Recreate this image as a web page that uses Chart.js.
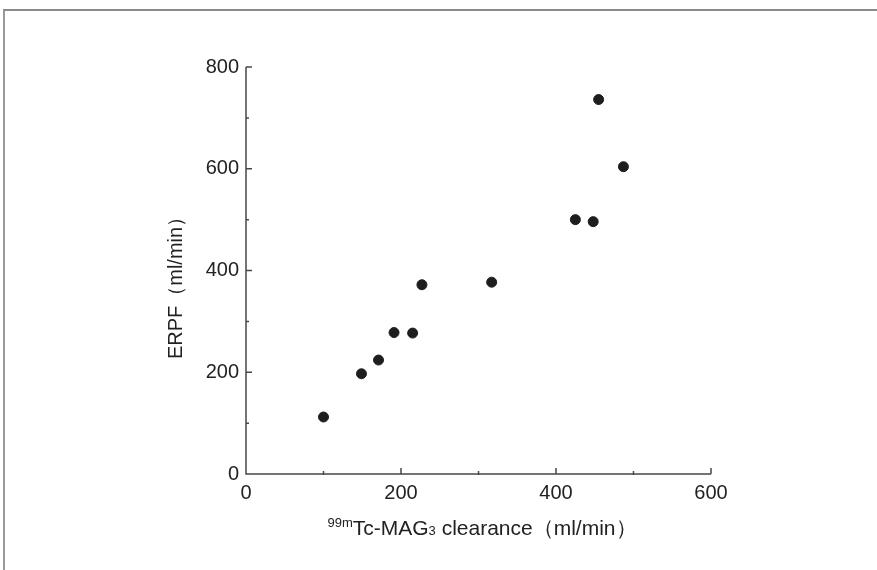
<!DOCTYPE html>
<html>
<head>
<meta charset="utf-8">
<script src="https://cdn.jsdelivr.net/npm/chart.js@4.4.1/dist/chart.umd.min.js"></script>
<style>
  html, body { margin: 0; padding: 0; background: #fff; }
  #wrap { position: relative; width: 877px; height: 570px; }
  #frame { position: absolute; left: 3px; top: 9px; right: -4px; bottom: -4px;
           border-left: 2px solid #9a9a9a; border-top: 2px solid #8a8a8a; pointer-events: none; }
</style>
</head>
<body>
<div id="wrap">
  <canvas id="chart" width="877" height="570"></canvas>
  <div id="frame"></div>
</div>
<script>
// data
const mag3Clearance = [100, 149, 171, 191, 215, 227, 317, 425, 448, 455, 487];
const erpf          = [112, 197, 224, 278, 277, 372, 377, 500, 496, 736, 604];

const xMajorTicks = [0, 200, 400, 600];
const xMinorTicks = [100, 300, 500];
const yMajorTicks = [0, 200, 400, 600, 800];
const yMinorTicks = [100, 300, 500, 700];

const FONT = '"Liberation Sans", Arial, Helvetica, sans-serif';
const AXIS_COLOR = '#474747';
const TEXT_COLOR = '#222';

const points = mag3Clearance.map((x, i) => ({ x: x, y: erpf[i] }));

// axis lines + ticks pointing inward (drawn through the scales)
const insideTicks = {
  id: 'insideTicks',
  afterDraw(chart) {
    const ctx = chart.ctx;
    const xs = chart.scales.x, ys = chart.scales.y;
    const x0 = xs.getPixelForValue(0), y0 = ys.getPixelForValue(0);
    ctx.save();
    ctx.strokeStyle = AXIS_COLOR;
    ctx.lineWidth = 1.5;
    ctx.beginPath();
    ctx.moveTo(x0, ys.getPixelForValue(800));
    ctx.lineTo(x0, y0);
    ctx.lineTo(xs.getPixelForValue(600), y0);
    xMajorTicks.forEach(v => { const p = xs.getPixelForValue(v); ctx.moveTo(p, y0); ctx.lineTo(p, y0 - 6); });
    xMinorTicks.forEach(v => { const p = xs.getPixelForValue(v); ctx.moveTo(p, y0 + 1); ctx.lineTo(p, y0 - 3); });
    yMajorTicks.forEach(v => { const p = ys.getPixelForValue(v); ctx.moveTo(x0, p); ctx.lineTo(x0 + 6, p); });
    yMinorTicks.forEach(v => { const p = ys.getPixelForValue(v); ctx.moveTo(x0, p); ctx.lineTo(x0 + 3, p); });
    ctx.stroke();
    ctx.restore();
  }
};

// axis titles (x title needs super/subscripts)
const axisTitles = {
  id: 'axisTitles',
  afterDraw(chart) {
    const ctx = chart.ctx;
    ctx.save();
    ctx.fillStyle = TEXT_COLOR;
    ctx.textBaseline = 'alphabetic';

    // x title: 99mTc-MAG3 clearance（ml/min）
    const parts = [
      { t: '99m', size: 13, dy: -8 },
      { t: 'Tc-MAG', size: 21, dy: 0 },
      { t: '3', size: 13, dy: 0 },
      { t: ' clearance（ml/min）', size: 21, dy: 0 }
    ];
    let total = 0;
    parts.forEach(p => { ctx.font = p.size + 'px ' + FONT; p.w = ctx.measureText(p.t).width; total += p.w; });
    let x = 482 - total / 2;
    const base = 535;
    parts.forEach(p => {
      ctx.font = p.size + 'px ' + FONT;
      ctx.textAlign = 'left';
      ctx.fillText(p.t, x, base + p.dy);
      x += p.w;
    });

    // y title
    ctx.translate(182, 283);
    ctx.rotate(-Math.PI / 2);
    ctx.font = '20px ' + FONT;
    ctx.textAlign = 'center';
    ctx.fillText('ERPF（ml/min）', 0, 0);
    ctx.restore();
  }
};

new Chart(document.getElementById('chart'), {
  type: 'scatter',
  data: {
    datasets: [{
      data: points,
      backgroundColor: '#1e1e1e',
      borderColor: '#1e1e1e',
      pointRadius: 5,
      pointHoverRadius: 5
    }]
  },
  options: {
    responsive: false,
    animation: false,
    layout: { padding: { top: 67, right: 166, left: 0, bottom: 0 } },
    plugins: { legend: { display: false }, tooltip: { enabled: false } },
    scales: {
      x: {
        type: 'linear',
        min: 0, max: 600,
        afterBuildTicks: s => { s.ticks = xMajorTicks.map(v => ({ value: v })); },
        afterFit: s => { s.height = 96; },
        grid: { display: false, drawTicks: false },
        border: { display: false },
        ticks: { padding: 7, color: TEXT_COLOR, font: { family: FONT, size: 20 }, maxRotation: 0 }
      },
      y: {
        type: 'linear',
        min: 0, max: 800,
        afterBuildTicks: s => { s.ticks = yMajorTicks.map(v => ({ value: v })); },
        afterFit: s => { s.width = 246; },
        grid: { display: false, drawTicks: false },
        border: { display: false },
        ticks: { padding: 7, color: TEXT_COLOR, font: { family: FONT, size: 20 } }
      }
    }
  },
  plugins: [insideTicks, axisTitles]
});
</script>
</body>
</html>
